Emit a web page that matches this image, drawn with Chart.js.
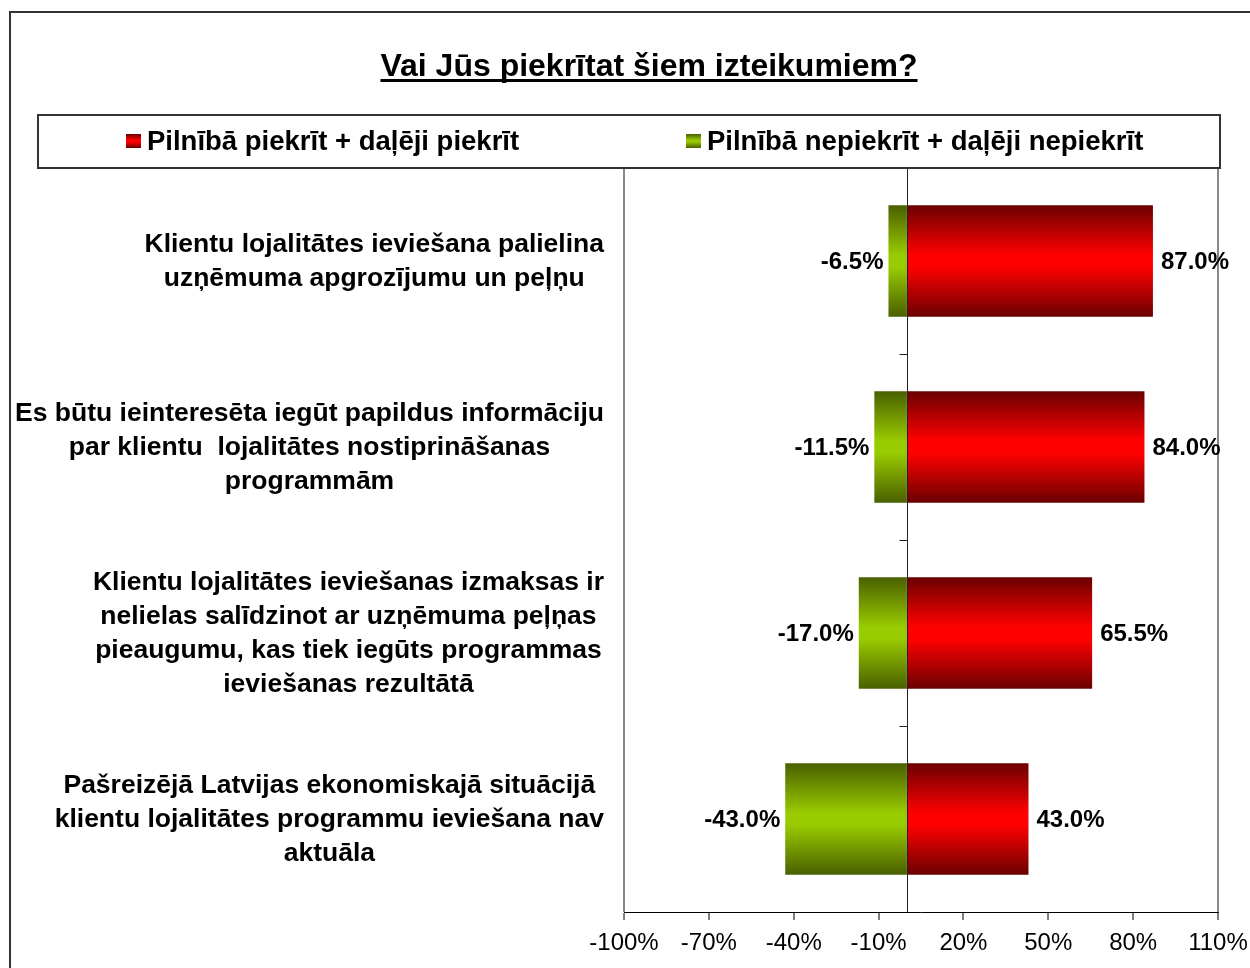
<!DOCTYPE html>
<html>
<head>
<meta charset="utf-8">
<script src="https://cdn.jsdelivr.net/npm/chart.js@4.4.0/dist/chart.umd.min.js"></script>
<style>
  html, body { margin: 0; padding: 0; background: #fff; }
  #wrap { position: relative; width: 1250px; height: 968px; }
</style>
</head>
<body>
<div id="wrap"><canvas id="grafica" width="1250" height="968"></canvas></div>
<script>
"use strict";
/* DATOS */
const kategorijas = [
    ["Klientu lojalitātes ieviešana palielina", "uzņēmuma apgrozījumu un peļņu"],
    ["Es būtu ieinteresēta iegūt papildus informāciju", "par klientu  lojalitātes nostiprināšanas", "programmām"],
    ["Klientu lojalitātes ieviešanas izmaksas ir", "nelielas salīdzinot ar uzņēmuma peļņas", "pieaugumu, kas tiek iegūts programmas", "ieviešanas rezultātā"],
    ["Pašreizējā Latvijas ekonomiskajā situācijā", "klientu lojalitātes programmu ieviešana nav", "aktuāla"]
];
const piekrit = [87.0, 84.0, 65.5, 43.0];
const nepiekrit = [-6.5, -11.5, -17.0, -43.0];
const xTicks = [-100, -70, -40, -10, 20, 50, 80, 110];
const nosaukums = "Vai Jūs piekrītat šiem izteikumiem?";
const serijas = ["Pilnībā piekrīt + daļēji piekrīt", "Pilnībā nepiekrīt + daļēji nepiekrīt"];

const FONT = "'Liberation Sans', Arial, sans-serif";
const sarkans = ["#6b0000", "#ff0000", "#6b0000"];
const zals = ["#4a6000", "#99cc00", "#4a6000"];

function gradients(ctx2d, y0, y1, krasas) {
    const g = ctx2d.createLinearGradient(0, y0, 0, y1);
    g.addColorStop(0, krasas[0]);
    g.addColorStop(0.45, krasas[1]);
    g.addColorStop(0.55, krasas[1]);
    g.addColorStop(1, krasas[2]);
    return g;
}

function stabinaKrasa(krasas) {
    return function (ctx) {
        const chart = ctx.chart;
        const ys = chart.scales.y;
        if (!ys || !chart.chartArea) return krasas[1];
        const c = ys.getPixelForValue(ctx.dataIndex);
        const solis = Math.abs(ys.getPixelForValue(1) - ys.getPixelForValue(0));
        const h = solis * 0.6 / 2;
        return gradients(chart.ctx, c - h, c + h, krasas);
    };
}

/* ZĪMĒŠANAS SPRAUDNIS */
const papildi = {
    id: "papildi",
    afterDatasetsDraw(chart) {
        const ctx = chart.ctx;
        const ys = chart.scales.y;
        const xs = chart.scales.x;
        const area = chart.chartArea;
        ctx.save();

        // vērtību etiķetes
        ctx.font = "bold 24px " + FONT;
        ctx.fillStyle = "#000";
        ctx.textBaseline = "middle";
        chart.data.datasets.forEach((ds, di) => {
            chart.getDatasetMeta(di).data.forEach((bar, i) => {
                const v = ds.data[i];
                const t = v.toFixed(1) + "%";
                if (v >= 0) {
                    ctx.textAlign = "left";
                    ctx.fillText(t, bar.x + 8, bar.y + 1);
                } else {
                    ctx.textAlign = "right";
                    ctx.fillText(t, bar.x - 5, bar.y + 1);
                }
            });
        });

        // nulles ass un iedaļas
        const x0 = Math.round(xs.getPixelForValue(0)) + 0.5;
        ctx.strokeStyle = "#222";
        ctx.lineWidth = 1;
        ctx.beginPath();
        ctx.moveTo(x0, area.top);
        ctx.lineTo(x0, area.bottom);
        for (let i = 0; i < kategorijas.length - 1; i++) {
            const yb = Math.round((ys.getPixelForValue(i) + ys.getPixelForValue(i + 1)) / 2) + 0.5;
            ctx.moveTo(x0 - 8, yb);
            ctx.lineTo(x0, yb);
        }
        ctx.stroke();

        // kategoriju nosaukumi
        ctx.font = "bold 26.5px " + FONT;
        ctx.textAlign = "center";
        ctx.textBaseline = "middle";
        const labaMala = 604;
        const rinda = 34;
        kategorijas.forEach((rindas, i) => {
            const yc = ys.getPixelForValue(i);
            let w = 0;
            rindas.forEach(r => { w = Math.max(w, ctx.measureText(r).width); });
            const xc = labaMala - w / 2;
            rindas.forEach((r, k) => {
                ctx.fillText(r, xc, yc + 1 + (k - (rindas.length - 1) / 2) * rinda);
            });
        });

        // virsraksts
        ctx.font = "bold 32px " + FONT;
        ctx.textAlign = "center";
        ctx.textBaseline = "alphabetic";
        const tw = ctx.measureText(nosaukums).width;
        ctx.fillText(nosaukums, 649, 76);
        ctx.fillRect(649 - tw / 2, 79, tw, 3);

        // leģenda
        ctx.strokeStyle = "#333";
        ctx.lineWidth = 2;
        ctx.strokeRect(38, 115, 1182, 53);
        ctx.font = "bold 27.5px " + FONT;
        ctx.textAlign = "left";
        ctx.textBaseline = "middle";
        const lx = [126, 686];
        const lk = [sarkans, zals];
        serijas.forEach((s, i) => {
            ctx.fillStyle = gradients(ctx, 134, 148, lk[i]);
            ctx.fillRect(lx[i], 134, 15, 14);
            ctx.fillStyle = "#000";
            ctx.fillText(s, lx[i] + 21, 142);
        });

        // ārējais rāmis
        ctx.strokeStyle = "#333";
        ctx.lineWidth = 2;
        ctx.strokeRect(10, 12, 1260, 980);
        ctx.restore();
    }
};

new Chart(document.getElementById("grafica"), {
    type: "bar",
    data: {
        labels: kategorijas,
        datasets: [
            {
                label: serijas[0],
                data: piekrit,
                backgroundColor: stabinaKrasa(sarkans),
                categoryPercentage: 0.6,
                barPercentage: 1.0
            },
            {
                label: serijas[1],
                data: nepiekrit,
                backgroundColor: stabinaKrasa(zals),
                categoryPercentage: 0.6,
                barPercentage: 1.0
            }
        ]
    },
    options: {
        indexAxis: "y",
        responsive: false,
        animation: false,
        devicePixelRatio: 1,
        layout: { padding: { left: 624, right: 32, top: 168, bottom: 2 } },
        plugins: {
            legend: { display: false },
            title: { display: false },
            tooltip: { enabled: false }
        },
        scales: {
            x: {
                min: -100,
                max: 110,
                afterBuildTicks: axis => { axis.ticks = xTicks.map(v => ({ value: v })); },
                afterFit: axis => { axis.paddingLeft = 0; axis.paddingRight = 0; },
                grid: {
                    color: c => (c.tick && (c.tick.value === -100 || c.tick.value === 110)) ? "#888" : "rgba(0,0,0,0)",
                    lineWidth: 2,
                    tickColor: "#000",
                    tickLength: 8,
                    tickWidth: 1
                },
                border: { display: true, color: "#000", width: 1 },
                ticks: {
                    color: "#000",
                    padding: 11,
                    font: { family: FONT, size: 24, lineHeight: 1.0 },
                    callback: v => v + "%"
                }
            },
            y: {
                display: false,
                stacked: true
            }
        }
    },
    plugins: [papildi]
});
</script>
</body>
</html>
